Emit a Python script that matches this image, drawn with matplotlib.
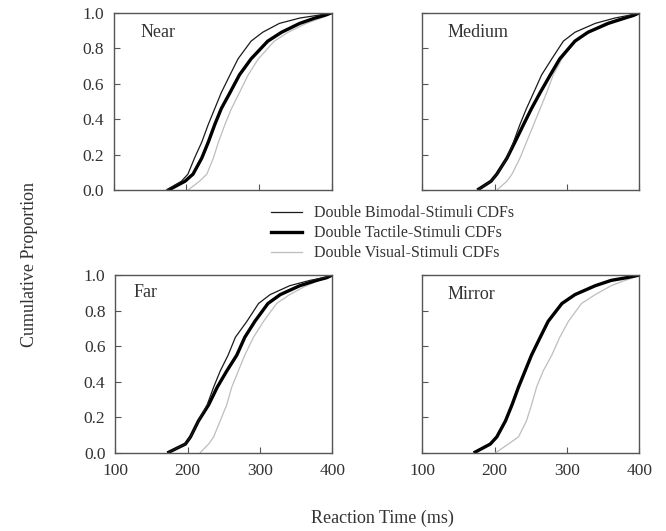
import matplotlib
matplotlib.use("Agg")
import matplotlib.pyplot as plt

plt.rcParams['font.family'] = ['Liberation Serif', 'DejaVu Serif']

# Cumulative proportion levels and reaction times (ms) at which each CDF reaches them
levels = [0.0, 0.05, 0.09, 0.18, 0.27, 0.37, 0.46, 0.55, 0.65, 0.74, 0.84, 0.89, 0.94, 0.97, 0.985, 1.0]

near_bimodal = [172, 193, 202, 211, 221, 230, 239, 248, 260, 271, 289, 305, 328, 356, 380, 400]
near_tactile = [175, 198, 209, 221, 230, 239, 248, 260, 273, 289, 312, 331, 356, 377, 390, 400]
near_visual = [202, 218, 228, 237, 244, 253, 262, 273, 285, 299, 321, 340, 365, 385, 395, 400]

medium_bimodal = [176, 195, 203, 217, 226, 235, 244, 254, 265, 279, 295, 311, 339, 366, 385, 400]
medium_tactile = [176, 195, 203, 217, 228, 240, 251, 263, 277, 290, 311, 329, 357, 380, 392, 400]
medium_visual = [203, 217, 224, 235, 244, 254, 263, 272, 281, 293, 311, 329, 352, 375, 390, 400]

far_bimodal = [172, 197, 204, 215, 227, 236, 245, 256, 266, 282, 298, 314, 341, 369, 388, 400]
far_tactile = [172, 197, 204, 215, 229, 241, 254, 268, 279, 293, 311, 328, 355, 378, 392, 400]
far_visual = [217, 229, 236, 245, 254, 261, 270, 279, 291, 305, 323, 341, 364, 382, 392, 400]

mirror_tactile = [171, 194, 203, 215, 224, 233, 242, 251, 263, 274, 293, 311, 339, 361, 382, 400]
mirror_visual = [201, 219, 233, 244, 251, 258, 267, 279, 290, 302, 320, 339, 361, 380, 392, 400]

panel_names = ["Near", "Medium", "Far", "Mirror"]
series_labels = ["Double Bimodal-Stimuli CDFs", "Double Tactile-Stimuli CDFs", "Double Visual-Stimuli CDFs"]
x_ticks = [100, 200, 300, 400]
y_ticks = [0.0, 0.2, 0.4, 0.6, 0.8, 1.0]

panel_data = {
    "Near": [near_bimodal, near_tactile, near_visual],
    "Medium": [medium_bimodal, medium_tactile, medium_visual],
    "Far": [far_bimodal, far_tactile, far_visual],
    "Mirror": [None, mirror_tactile, mirror_visual],
}

styles = [
    dict(color='#1a1a1a', lw=0.9),
    dict(color='#000000', lw=2.4),
    dict(color='#bdbdbd', lw=0.9),
]

fig = plt.figure(figsize=(6.66, 5.31), dpi=100)

positions = {
    "Near": [0.171, 0.642, 0.327, 0.334],
    "Medium": [0.634, 0.642, 0.326, 0.334],
    "Far": [0.173, 0.147, 0.326, 0.335],
    "Mirror": [0.634, 0.147, 0.326, 0.335],
}
label_pos = {"Near": (0.12, 0.89), "Medium": (0.115, 0.89), "Far": (0.083, 0.90), "Mirror": (0.115, 0.89)}

handles = None
for name in panel_names:
    ax = fig.add_axes(positions[name])
    hs = []
    # draw visual first, then tactile, then bimodal on top
    for idx in [2, 1, 0]:
        d = panel_data[name][idx]
        if d is None:
            continue
        h, = ax.plot(d, levels, label=series_labels[idx], solid_capstyle='butt', **styles[idx])
    ax.set_xlim(100, 400)
    ax.set_ylim(0, 1.0)
    ax.set_xticks(x_ticks)
    ax.set_yticks(y_ticks)
    ax.set_yticklabels([f"{v:.1f}" for v in y_ticks])
    ax.tick_params(direction='in', length=4, width=0.8, colors='#555555', labelcolor='#333333',
                   labelsize=12.5, pad=7)
    for s in ax.spines.values():
        s.set_color('#555555')
        s.set_linewidth(1.0)
    if name in ("Near", "Medium"):
        ax.tick_params(labelbottom=False)
    if name in ("Medium", "Mirror"):
        ax.tick_params(labelleft=False)
    ax.text(label_pos[name][0], label_pos[name][1], name, transform=ax.transAxes,
            fontsize=13, color='#333333', ha='left', va='center')

from matplotlib.lines import Line2D
leg_handles = [Line2D([], [], **styles[i]) for i in range(3)]
fig.legend(leg_handles, series_labels, loc='center', bbox_to_anchor=(0.59, 0.561),
           frameon=False, fontsize=11.5, handlelength=1.9, handletextpad=0.8,
           labelspacing=0.25, labelcolor='#333333')

fig.text(0.045, 0.501, "Cumulative Proportion", rotation=90, ha='center', va='center',
         fontsize=13, color='#333333')
fig.text(0.574, 0.024, "Reaction Time (ms)", ha='center', va='center',
         fontsize=13, color='#333333')

fig.savefig("out.png", dpi=100)
